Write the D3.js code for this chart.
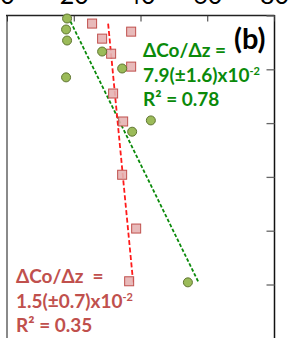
<!DOCTYPE html>
<html>
<head>
<meta charset="utf-8">
<script src="https://cdn.jsdelivr.net/npm/d3@7"></script>
<style>
  body { margin: 0; background: #fff; }
  svg { display: block; font-family: Lato, 'Open Sans', sans-serif; }
</style>
</head>
<body>
<svg id="chart" width="290" height="338"></svg>
<script>
// Co (x) against depth z (y, increasing downwards)
const greenCo = [18.0, 17.7, 18.0, 28.5, 34.5, 17.7, 43.1, 37.5, 54.2];
const greenZ = [5.6, 26, 46.5, 67, 98.5, 115, 195, 216, 496];
const redCo = [25.5, 37.2, 28.5, 31.2, 37.2, 31.8, 34.8, 34.5, 38.7, 36.6];
const redZ = [15, 30, 43, 71, 95, 145, 197, 296, 396, 494];

// fitted lines, end points
const greenFitCo = [18.3, 57.4];
const greenFitZ = [2, 496];
const redFitCo = [30.3, 37.8];
const redFitZ = [15, 496];

const xTicks = [0, 20, 40, 60, 80];
const zTicks = [0, 100, 200, 300, 400, 500, 600];

const greenText = ['ΔCo/Δz =', '7.9(±1.6)x10', 'R² = 0.78'];
const redText = ['ΔCo/Δz  =', '1.5(±0.7)x10', 'R² = 0.35'];

let svg = d3.select('#chart');

let x = d3.scaleLinear().domain([0, 80]).range([7, 274]);
let y = d3.scaleLinear().domain([0, 600]).range([15.5, 15.5 + 6 * 53.8]);

// frame
svg.append('line')
  .attr('x1', 7).attr('x2', 7).attr('y1', 15).attr('y2', 338)
  .attr('stroke', '#8a8a8a').attr('stroke-width', 2);
svg.append('line')
  .attr('x1', 6).attr('x2', 274.5).attr('y1', 15.5).attr('y2', 15.5)
  .attr('stroke', '#222').attr('stroke-width', 1.3);
svg.append('line')
  .attr('x1', 274.5).attr('x2', 274.5).attr('y1', 15).attr('y2', 338)
  .attr('stroke', '#111').attr('stroke-width', 1.5);

// top axis, labels mostly above the visible area
let topAxis = svg.append('g')
  .attr('transform', 'translate(0,15.5)')
  .call(d3.axisTop(x).tickValues(xTicks).tickSize(-6).tickSizeOuter(0));
topAxis.select('.domain').remove();
topAxis.selectAll('line').attr('stroke', '#333');
topAxis.selectAll('text')
  .attr('y', -12)
  .attr('dy', 0)
  .attr('font-family', 'Lato, sans-serif')
  .attr('font-size', 25)
  .attr('fill', '#000');

let rightAxis = svg.append('g')
  .attr('transform', 'translate(274.5,0)')
  .call(d3.axisRight(y).tickValues(zTicks).tickSize(-8).tickSizeOuter(0).tickFormat(''));
rightAxis.select('.domain').remove();
rightAxis.selectAll('line').attr('stroke', '#666').attr('stroke-width', 1.3);

// fit lines
let line = d3.line().x(d => x(d[0])).y(d => y(d[1]));

svg.append('path')
  .datum(d3.zip(greenFitCo, greenFitZ))
  .attr('d', line)
  .attr('fill', 'none')
  .attr('stroke', '#0a8a0a')
  .attr('stroke-width', 1.8)
  .attr('stroke-dasharray', '3.5,2');

svg.append('path')
  .datum(d3.zip(redFitCo, redFitZ))
  .attr('d', line)
  .attr('fill', 'none')
  .attr('stroke', '#ff1a1a')
  .attr('stroke-width', 1.8)
  .attr('stroke-dasharray', '5,2.5');

// points
svg.selectAll('rect.red')
  .data(d3.zip(redCo, redZ))
  .enter()
  .append('rect')
    .attr('class', 'red')
    .attr('x', d => x(d[0]) - 4.5)
    .attr('y', d => y(d[1]) - 4.5)
    .attr('width', 9)
    .attr('height', 9)
    .attr('fill', '#e6b3b3')
    .attr('fill-opacity', 0.9)
    .attr('stroke', '#c0504d')
    .attr('stroke-width', 1);

svg.selectAll('circle.green')
  .data(d3.zip(greenCo, greenZ))
  .enter()
  .append('circle')
    .attr('class', 'green')
    .attr('cx', d => x(d[0]))
    .attr('cy', d => y(d[1]))
    .attr('r', 4.5)
    .attr('fill', '#9bbb59')
    .attr('stroke', '#5f7530')
    .attr('stroke-width', 1);

// annotations
let addBlock = (lines, left, top, color) => {
  let g = svg.append('g')
    .attr('font-weight', 'bold')
    .attr('font-size', 19)
    .attr('fill', color);
  lines.forEach((t, i) => {
    let txt = g.append('text')
      .attr('x', left)
      .attr('y', top + i * 24.5)
      .style('white-space', 'pre')
      .text(t);
    if (i == 1) {
      txt.append('tspan')
        .attr('font-size', 11)
        .attr('dy', -7)
        .text('-2');
    }
  });
};

addBlock(greenText, 143, 57, '#0a8a0a');
addBlock(redText, 16, 283, '#c0504d');

svg.append('text')
  .attr('x', 234)
  .attr('y', 49)
  .attr('font-weight', 'bold')
  .attr('font-size', 29)
  .attr('fill', '#000')
  .text('(b)');
</script>
</body>
</html>
